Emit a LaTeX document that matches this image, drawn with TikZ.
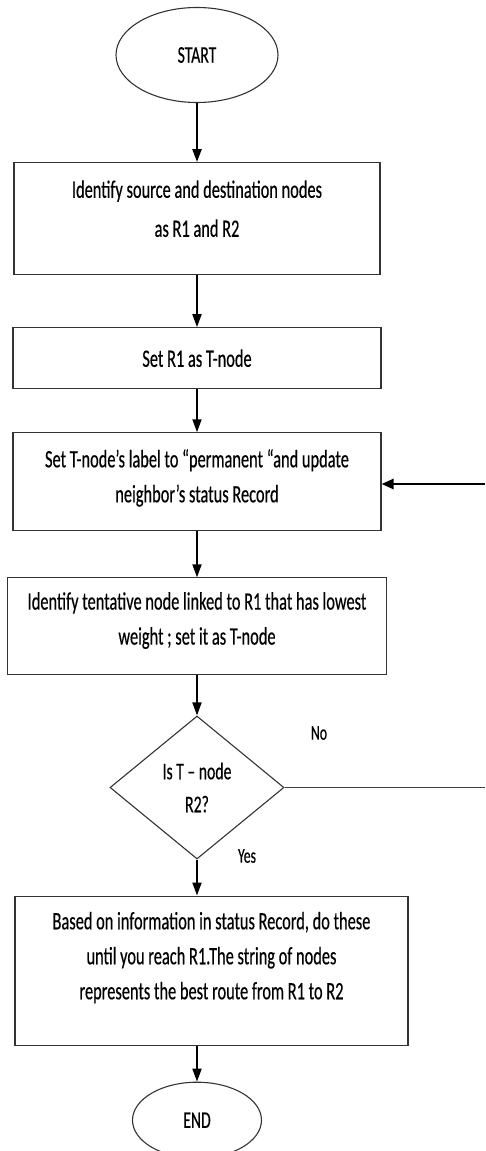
\documentclass[tikz,border=0pt]{standalone}
\usepackage{fontspec}
\setmainfont{Carlito}[FakeStretch=0.655, FakeBold=0.4]
\usetikzlibrary{positioning, arrows.meta, shapes.geometric}
\tikzset{
  >={Triangle[length=13pt, width=9pt]},
  box/.style={draw=black!80, line width=1.1pt, rectangle, inner sep=0pt, align=center, font=\fontsize{25}{35}\selectfont},
  term/.style={draw=black!80, line width=1.1pt, ellipse, inner sep=0pt, font=\fontsize{24}{28}\selectfont},
  decide/.style={draw=black!80, line width=1.1pt, diamond, inner sep=0pt, align=center, font=\fontsize{24}{33}\selectfont},
  flow/.style={->, line width=1.8pt},
  lbl/.style={font=\fontsize{21}{24}\selectfont},
}
\newcommand{\padlow}[1]{\rule[-#1]{0pt}{0pt}}

\begin{document}
\begin{tikzpicture}[x=1pt, y=-1pt]
  \useasboundingbox (0,0) rectangle (485,1151);
  \node[term, minimum width=162pt, minimum height=95pt] (start) at (197,55) {START};
  \node[box, minimum width=366pt, minimum height=112pt, below=59pt of start] (ident) {Identify source and destination nodes\\[4pt] as R1 and R2\padlow{20pt}};
  \node[box, minimum width=368pt, minimum height=61pt, below=52pt of ident] (setr) {Set R1 as T-node};
  \node[box, minimum width=368pt, minimum height=98pt, below=43pt of setr] (perm) {Set T-node’s label to “permanent “and update\\neighbor’s status Record\padlow{12pt}};
  \node[box, minimum width=379pt, minimum height=97pt, below=46pt of perm] (tent) {Identify tentative node linked to R1 that has lowest\\weight ; set it as T-node\padlow{16pt}};
  \node[decide, minimum width=174pt, minimum height=143pt, below=40pt of tent] (dec) {Is T – node\\R2?};
  \node[box, minimum width=393pt, minimum height=149pt, below=36pt of dec, xshift=14.5pt] (based) {Based on information in status Record, do these\\until you reach R1.The string of nodes\\represents the best route from R1 to R2\padlow{30pt}};
  \node[term, minimum width=129pt, minimum height=76pt, below=36pt of based, xshift=-14.5pt] (end) {END};

  \node[lbl] (nolbl) at (319,733) {No};
  \node[lbl] (yeslbl) at (247,856) {Yes};
  \coordinate (back) at (485,484);
  \coordinate (noend) at (485,777);

  \draw[flow, line width=2.3pt] (start) -- (ident);
  \draw[flow] (ident) -- (setr);
  \draw[flow] (setr) -- (perm);
  \draw[flow] (perm) -- (tent);
  \draw[flow] (tent) -- (dec);
  \draw[flow] (dec.south) -- (dec.south |- based.north);
  \draw[flow] (end.north |- based.south) -- (end.north);
  \draw[line width=1.3pt, black!75] (dec.east) -- (dec.east -| noend);
  \draw[->, >={Triangle[length=12pt, width=10pt]}, line width=2.6pt] (back) -- (back -| perm.east);
\end{tikzpicture}
\end{document}
